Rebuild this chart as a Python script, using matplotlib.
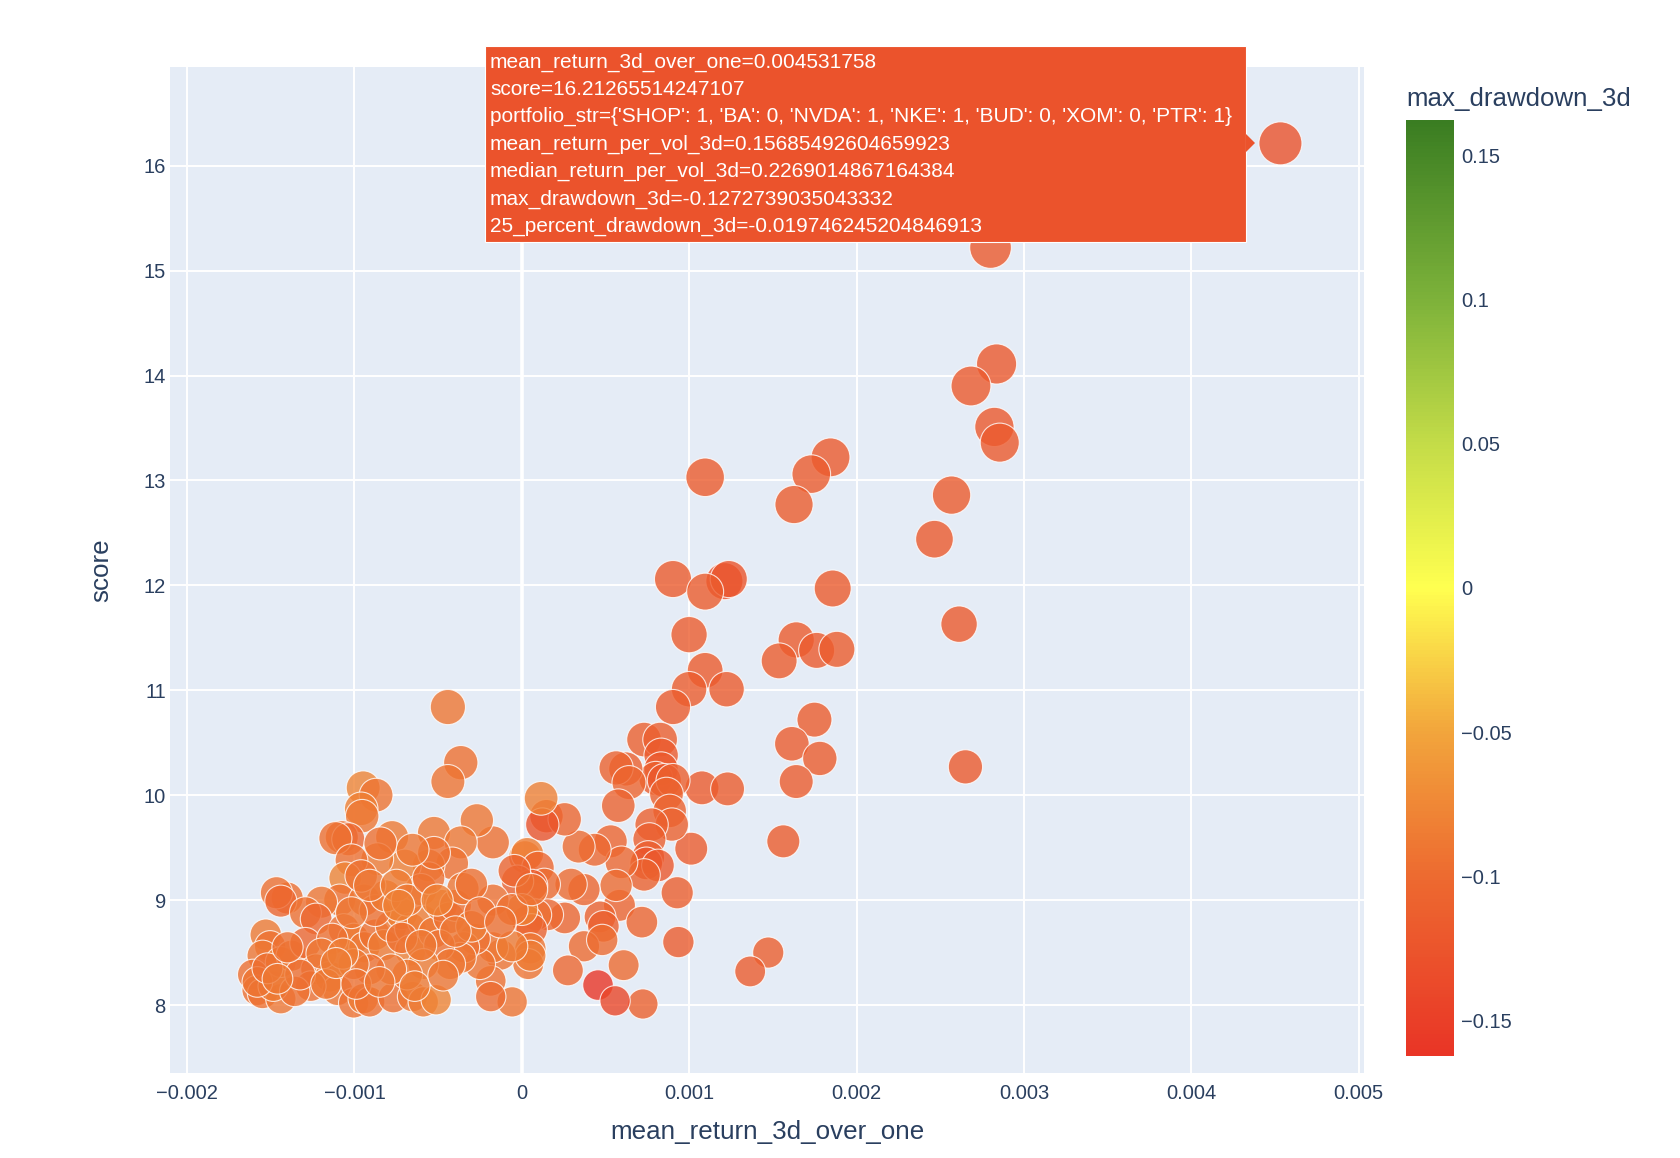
import numpy as np
import matplotlib.pyplot as plt
from matplotlib.colors import LinearSegmentedColormap, Normalize
from matplotlib.cm import ScalarMappable
from matplotlib.patches import Rectangle, Polygon
from matplotlib.ticker import FuncFormatter

# mean_return_3d_over_one in units of 1e-3
ret_milli = [4.5318, 2.800, 2.836, 2.683, 2.823, 2.855, 2.567, 2.465, 2.612, 2.650,
             1.844, 1.729, 1.626, 1.095, 0.903, 1.210, 1.236, 1.095, 1.857, 0.999,
             1.639, 1.761, 1.882, 1.537, 1.095, 0.999, 1.223, 0.903, 1.748, 1.613,
             1.780, 1.639, 1.076, 1.229, 1.012, 1.562, 0.928, 0.935, 1.472, 1.364,
             0.723, 0.455, 0.557,
             0.730, 0.826, 0.832, 0.832, 0.800, 0.851, 0.903, 0.864, 0.883, 0.896,
             0.775, 0.762, 0.755, 0.743, 0.813, 0.730, 0.621, 0.563, 0.640, 0.576,
             0.531, 0.595, 0.583, 0.563, 0.717, 0.608, 0.467, 0.487, 0.371, 0.435,
             0.339, 0.294, 0.256, 0.371, 0.275, 0.480, 0.147, 0.256, 0.122, 0.115,
             0.019, 0.032, 0.096, 0.134, 0.154, 0.058, 0.083, 0.032, 0.058, -0.026,
             -0.045, 0.000, 0.051, 0.038, -0.058, 0.051, -0.128, -0.173, -0.186, -0.186,
             -0.250, -0.282, -0.346, -0.173, -0.269, -0.173, -0.058,
             -0.442, -0.365, -0.442, -0.948, -0.871, -0.960, -0.954, -1.076, -1.037, -1.114,
             -0.775, -0.525, -0.365, -0.416, -0.557, -0.698, -0.602, -0.864, -1.018, -1.056,
             -1.088, -1.197, -1.402, -1.466, -1.440, -1.293, -1.229, -1.530, -1.504, -1.549,
             -1.607, -1.581, -1.549, -1.440, -1.485, -1.440, -1.376, -1.293, -1.229, -1.146,
             -1.101, -1.005, -0.948, -0.909, -0.768, -0.653, -0.589, -0.512, -1.063, -1.005,
             -0.941, -0.877, -0.826, -0.781, -0.717, -0.666, -0.666, -0.589, -0.525, -0.480,
             -0.435, -0.397, -0.352, -0.301, -0.301, -0.365, -0.058, 0.058, -0.941, -0.877,
             -0.813, -0.960, -0.909, -0.749, -0.685, -0.557, -0.506, -0.493, -0.429, -0.589,
             -0.685, -0.781, -0.909, -1.005, -1.133, -1.197, -1.261, -1.357, -1.325, -1.069,
             -0.525, -0.653, -0.845, -0.736, -1.018, -0.717, -0.602, -0.397, -0.250, -0.128,
             -1.580, -1.520, -1.460, -1.400, -1.170, -1.110, -0.990, -0.850, -0.640, -0.470]

score = [16.2127, 15.22, 14.11, 13.90, 13.51, 13.36, 12.86, 12.44, 11.63, 10.27,
         13.22, 13.06, 12.77, 13.03, 12.06, 12.04, 12.06, 11.94, 11.97, 11.53,
         11.48, 11.38, 11.39, 11.28, 11.19, 11.01, 11.01, 10.84, 10.72, 10.49,
         10.35, 10.13, 10.07, 10.06, 9.49, 9.56, 9.07, 8.60, 8.50, 8.32,
         8.01, 8.19, 8.04,
         10.53, 10.53, 10.38, 10.25, 10.16, 10.14, 10.14, 10.01, 9.85, 9.72,
         9.72, 9.58, 9.41, 9.35, 9.33, 9.24, 10.25, 10.26, 10.12, 9.90,
         9.56, 9.36, 8.95, 9.14, 8.79, 8.38, 8.84, 8.75, 9.10, 9.48,
         9.51, 9.15, 8.83, 8.56, 8.33, 8.62, 9.80, 9.77, 9.72, 9.97,
         9.41, 9.44, 9.31, 9.15, 8.86, 9.14, 8.86, 8.80, 8.72, 9.18,
         9.28, 8.91, 8.54, 8.39, 8.03, 8.47, 8.48, 8.55, 8.23, 8.08,
         8.39, 8.63, 8.55, 9.55, 9.76, 9.00, 8.56,
         10.84, 10.31, 10.13, 10.07, 10.00, 9.87, 9.80, 9.60, 9.58, 9.59,
         9.60, 9.64, 9.55, 9.35, 9.33, 9.33, 9.10, 9.39, 9.38, 9.21,
         9.00, 8.98, 9.02, 9.07, 8.99, 8.88, 8.82, 8.67, 8.56, 8.47,
         8.29, 8.14, 8.11, 8.06, 8.18, 8.41, 8.47, 8.59, 8.34, 8.27,
         8.14, 8.02, 8.06, 8.03, 8.07, 8.08, 8.03, 8.05, 8.72, 8.63,
         8.55, 8.67, 8.57, 8.75, 8.87, 8.73, 8.52, 8.80, 8.69, 8.95,
         8.83, 8.95, 9.11, 9.15, 8.75, 8.45, 8.91, 9.10, 9.00, 8.90,
         9.04, 9.23, 9.14, 9.14, 9.00, 9.21, 9.00, 8.57, 8.39, 8.39,
         8.29, 8.34, 8.34, 8.39, 8.63, 8.49, 8.18, 8.13, 8.29, 8.49,
         9.45, 9.48, 9.54, 8.95, 8.88, 8.64, 8.57, 8.70, 8.88, 8.79,
         8.22, 8.35, 8.25, 8.55, 8.20, 8.40, 8.20, 8.22, 8.18, 8.28]

max_drawdown_3d = [-0.1273, -0.118, -0.120, -0.118, -0.120, -0.118, -0.117, -0.118, -0.119, -0.118,
                   -0.118, -0.117, -0.116, -0.117, -0.117, -0.130, -0.125, -0.116, -0.117, -0.115,
                   -0.117, -0.118, -0.116, -0.116, -0.117, -0.116, -0.117, -0.115, -0.116, -0.115,
                   -0.116, -0.115, -0.117, -0.116, -0.115, -0.116, -0.114, -0.115, -0.114, -0.115,
                   -0.110, -0.162, -0.142,
                   -0.112, -0.114, -0.118, -0.120, -0.113, -0.122, -0.112, -0.110, -0.108, -0.110,
                   -0.112, -0.113, -0.115, -0.125, -0.120, -0.110, -0.112, -0.108, -0.106, -0.108,
                   -0.106, -0.102, -0.106, -0.100, -0.106, -0.100, -0.110, -0.112, -0.105, -0.102,
                   -0.100, -0.100, -0.104, -0.100, -0.102, -0.098, -0.115, -0.105, -0.125, -0.080,
                   -0.085, -0.083, -0.105, -0.100, -0.102, -0.115, -0.096, -0.092, -0.108, -0.108,
                   -0.106, -0.080, -0.090, -0.092, -0.092, -0.086, -0.092, -0.090, -0.094, -0.100,
                   -0.092, -0.095, -0.094, -0.094, -0.090, -0.094, -0.086,
                   -0.090, -0.094, -0.092, -0.078, -0.092, -0.082, -0.090, -0.094, -0.102, -0.094,
                   -0.086, -0.088, -0.088, -0.094, -0.086, -0.082, -0.090, -0.086, -0.094, -0.078,
                   -0.094, -0.090, -0.096, -0.094, -0.104, -0.094, -0.102, -0.086, -0.094, -0.090,
                   -0.094, -0.096, -0.094, -0.090, -0.086, -0.082, -0.090, -0.102, -0.094, -0.086,
                   -0.090, -0.094, -0.086, -0.094, -0.096, -0.090, -0.086, -0.078, -0.094, -0.086,
                   -0.090, -0.094, -0.086, -0.090, -0.082, -0.088, -0.080, -0.084, -0.090, -0.088,
                   -0.094, -0.096, -0.090, -0.094, -0.086, -0.090, -0.094, -0.094, -0.090, -0.094,
                   -0.086, -0.094, -0.090, -0.084, -0.088, -0.094, -0.082, -0.094, -0.090, -0.084,
                   -0.088, -0.090, -0.094, -0.088, -0.094, -0.090, -0.094, -0.094, -0.096, -0.084,
                   -0.094, -0.090, -0.094, -0.082, -0.090, -0.094, -0.088, -0.090, -0.094, -0.094,
                   -0.092, -0.096, -0.088, -0.094, -0.090, -0.086, -0.094, -0.090, -0.086, -0.090]

x_ticks = [-0.002, -0.001, 0, 0.001, 0.002, 0.003, 0.004, 0.005]
y_ticks = [8, 9, 10, 11, 12, 13, 14, 15, 16]
cbar_ticks = [-0.15, -0.1, -0.05, 0, 0.05, 0.1, 0.15]

hover_lines = [
    "mean_return_3d_over_one=0.004531758",
    "score=16.21265514247107",
    "portfolio_str={'SHOP': 1, 'BA': 0, 'NVDA': 1, 'NKE': 1, 'BUD': 0, 'XOM': 0, 'PTR': 1}",
    "mean_return_per_vol_3d=0.15685492604659923",
    "median_return_per_vol_3d=0.2269014867164384",
    "max_drawdown_3d=-0.1272739035043332",
    "25_percent_drawdown_3d=-0.019746245204846913",
]

x = np.array(ret_milli) * 1e-3
y = np.array(score)
dd = np.array(max_drawdown_3d)

txt = '#2a3f5f'
plt.rcParams['font.family'] = ['Liberation Sans', 'DejaVu Sans']

cmap = LinearSegmentedColormap.from_list('dd', [
    (0.0, '#e93526'), (0.19, '#ed6a30'), (0.346, '#f2a53c'), (0.5, '#ffff50'),
    (0.654, '#c4dc48'), (0.809, '#7db23a'), (1.0, '#3a7d22')])
lim = 0.1623
norm = Normalize(-lim, lim)

fig = plt.figure(figsize=(16.8, 11.58), dpi=100)
ax = fig.add_axes([0.1012, 0.0734, 0.7107, 0.8687])
ax.set_facecolor('#e5ecf6')
for s in ax.spines.values():
    s.set_visible(False)

sizes = 960 * y / y.max()
ax.scatter(x, y, s=sizes, c=dd, cmap=cmap, norm=norm, alpha=0.8,
           edgecolors='white', linewidths=0.8, zorder=3)

ax.set_xlim(-0.002102, 0.005031)
ax.set_ylim(7.352, 16.94)
ax.set_xticks(x_ticks)
ax.set_yticks(y_ticks)
ax.grid(True, color='white', lw=1.4, zorder=0)
ax.set_axisbelow(True)
ax.axvline(0, color='white', lw=2.6, zorder=1)

def fmt(v, pos=None):
    s = '%g' % round(v, 6)
    return s.replace('-', '\u2212')

ax.xaxis.set_major_formatter(FuncFormatter(fmt))
ax.tick_params(length=0, labelsize=14.5, labelcolor=txt)
ax.tick_params(axis='x', pad=8)
ax.tick_params(axis='y', pad=3)
ax.set_xlabel('mean_return_3d_over_one', fontsize=18.7, color=txt, labelpad=12)
ax.set_ylabel('score', fontsize=18.7, color=txt, labelpad=22)

cax = fig.add_axes([0.8369, 0.0881, 0.0286, 0.8083])
cb = fig.colorbar(ScalarMappable(norm=norm, cmap=cmap), cax=cax)
cb.outline.set_visible(False)
cb.set_ticks(cbar_ticks)
cb.ax.yaxis.set_major_formatter(FuncFormatter(fmt))
cb.ax.tick_params(length=0, labelsize=14.5, labelcolor=txt, pad=5)
fig.text(0.8369, 1 - 99 / 1158, 'max_drawdown_3d', fontsize=18.6, color=txt,
         ha='left', va='center')

# hover label for the top point
hc = cmap(norm(dd[0]))
fig.add_artist(Rectangle((485 / 1680, 1 - 242 / 1158), 761 / 1680, 196 / 1158,
                         transform=fig.transFigure, facecolor=hc, edgecolor='white', lw=0.8,
                         zorder=10))
fig.add_artist(Polygon([(1246 / 1680, 1 - 134 / 1158), (1255 / 1680, 1 - 143 / 1158),
                        (1246 / 1680, 1 - 152 / 1158)], closed=True,
                       transform=fig.transFigure, facecolor=hc, edgecolor='none', zorder=10))
for i, line in enumerate(hover_lines):
    fig.text(490 / 1680, 1 - (62 + 27.4 * i) / 1158, line, fontsize=15, color='white',
             ha='left', va='center', zorder=11)

fig.savefig('out.png', dpi=100, facecolor='white')
